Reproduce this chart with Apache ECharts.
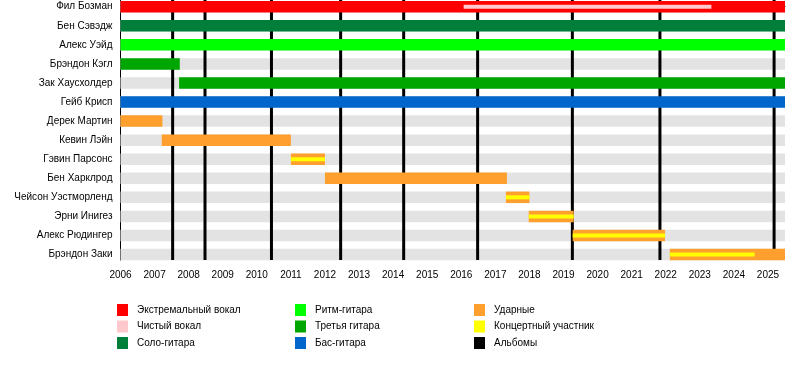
<!DOCTYPE html>
<html>
<head>
<meta charset="utf-8">
<script src="https://cdn.jsdelivr.net/npm/echarts@6/dist/echarts.min.js"></script>
<style>
html,body{margin:0;padding:0;background:#fff;}
#chart{width:800px;height:380px;}
</style>
</head>
<body>
<div id="chart"></div>
<script>
const members = [
  'Фил Бозман', 'Бен Сэвэдж', 'Алекс Уэйд', 'Брэндон Кэгл', 'Зак Хаусхолдер',
  'Гейб Крисп', 'Дерек Мартин', 'Кевин Лэйн', 'Гэвин Парсонс', 'Бен Харклрод',
  'Чейсон Уэстморленд', 'Эрни Инигез', 'Алекс Рюдингер', 'Брэндон Заки'
];
const years = [2006, 2007, 2008, 2009, 2010, 2011, 2012, 2013, 2014, 2015,
  2016, 2017, 2018, 2019, 2020, 2021, 2022, 2023, 2024, 2025];
const startDate = 2006;
const endDate = 2025.5;

const extremeVocals = [['Фил Бозман', 2006, 2025.5]];
const cleanVocals = [['Фил Бозман', 2016.07, 2023.34]];
const leadGuitar = [['Бен Сэвэдж', 2006, 2025.5]];
const rhythmGuitar = [['Алекс Уэйд', 2006, 2025.5]];
const thirdGuitar = [['Брэндон Кэгл', 2006, 2007.74], ['Зак Хаусхолдер', 2007.72, 2025.5]];
const bassGuitar = [['Гейб Крисп', 2006, 2025.5]];
const drums = [
  ['Дерек Мартин', 2006, 2007.23],
  ['Кевин Лэйн', 2007.21, 2011.0],
  ['Гэвин Парсонс', 2011.0, 2012.0],
  ['Бен Харклрод', 2012.0, 2017.34],
  ['Чейсон Уэстморленд', 2017.31, 2018.0],
  ['Эрни Инигез', 2017.98, 2019.3],
  ['Алекс Рюдингер', 2019.27, 2021.98],
  ['Брэндон Заки', 2022.12, 2025.5]
];
const touring = [
  ['Гэвин Парсонс', 2011.0, 2012.0],
  ['Чейсон Уэстморленд', 2017.31, 2018.0],
  ['Эрни Инигез', 2017.98, 2019.3],
  ['Алекс Рюдингер', 2019.27, 2021.98],
  ['Брэндон Заки', 2022.12, 2024.61]
];
const albums = [2007.53, 2008.48, 2010.43, 2012.46, 2014.31, 2016.48, 2019.26, 2021.83, 2025.18];

const BAR_H = 11.5;
const INNER_H = 4;
const FONT = 'Liberation Sans, Arial, sans-serif';

function barRender(h) {
  return function (params, api) {
    const row = api.value(0);
    const p0 = api.coord([api.value(1), row]);
    const p1 = api.coord([api.value(2), row]);
    return {
      type: 'rect',
      shape: { x: p0[0], y: p0[1] - h / 2, width: p1[0] - p0[0], height: h },
      style: { fill: api.visual('color') }
    };
  };
}
function rows(list) {
  return list.map(d => [members.indexOf(d[0]), d[1], d[2]]);
}
function barSeries(name, color, list, h, z) {
  return {
    name: name, type: 'custom', renderItem: barRender(h),
    itemStyle: { color: color }, z: z, silent: true,
    encode: { x: [1, 2], y: 0 },
    data: rows(list)
  };
}

const series = [
  {
    name: 'bg', type: 'custom', z: 1, silent: true,
    renderItem: barRender(BAR_H), itemStyle: { color: '#e3e3e3' },
    encode: { x: [1, 2], y: 0 },
    data: members.map((m, i) => [i, startDate, endDate])
  },
  {
    name: 'Альбомы', type: 'custom', z: 2, silent: true,
    itemStyle: { color: '#000000' },
    renderItem: function (params, api) {
      const x = api.coord([api.value(0), 0])[0];
      const cs = params.coordSys;
      return {
        type: 'line',
        shape: { x1: x, y1: cs.y, x2: x, y2: cs.y + cs.height },
        style: { stroke: api.visual('color'), lineWidth: 3 }
      };
    },
    encode: { x: 0 },
    data: albums.map(a => [a])
  },
  barSeries('Экстремальный вокал', '#ff0000', extremeVocals, BAR_H, 3),
  barSeries('Чистый вокал', '#ffc8cc', cleanVocals, INNER_H, 4),
  barSeries('Соло-гитара', '#007f3a', leadGuitar, BAR_H, 3),
  barSeries('Ритм-гитара', '#00ff00', rhythmGuitar, BAR_H, 3),
  barSeries('Третья гитара', '#00a600', thirdGuitar, BAR_H, 3),
  barSeries('Бас-гитара', '#0066cc', bassGuitar, BAR_H, 3),
  barSeries('Ударные', '#ffa02e', drums, BAR_H, 3),
  barSeries('Концертный участник', '#ffff00', touring, INNER_H, 4)
];

function legend(left, names) {
  return {
    orient: 'vertical', left: left, top: 304, padding: 0,
    itemWidth: 11, itemHeight: 12, itemGap: 4.5,
    icon: 'rect', selectedMode: false,
    textStyle: { fontFamily: FONT, fontSize: 10, color: '#000', padding: [0, 0, 0, 4] },
    data: names.map(n => ({ name: n, icon: 'rect' }))
  };
}

const rowIndices = members.map((m, i) => i);

const chart = echarts.init(document.getElementById('chart'), null, { renderer: 'canvas' });
chart.setOption({
  animation: false,
  backgroundColor: '#ffffff',
  grid: { left: 120.5, right: 15, top: 0, bottom: 120, containLabel: false },
  xAxis: {
    type: 'value', min: startDate, max: endDate, interval: 1,
    axisLine: { show: true, lineStyle: { color: '#000', width: 1 } },
    axisTick: { show: true, length: 5, lineStyle: { color: '#000' }, customValues: years },
    axisLabel: { fontFamily: FONT, fontSize: 10, color: '#000', margin: 10, customValues: years,
      formatter: v => String(v) },
    splitLine: { show: false }
  },
  yAxis: {
    type: 'value', inverse: true, min: -0.3515, max: 13.2886,
    axisLine: { show: true, lineStyle: { color: '#000', width: 1 } },
    axisTick: { show: false },
    axisLabel: { fontFamily: FONT, fontSize: 10, color: '#000', margin: 8,
      customValues: rowIndices, formatter: v => members[Math.round(v)] || '' },
    splitLine: { show: false }
  },
  legend: [
    legend(117, ['Экстремальный вокал', 'Чистый вокал', 'Соло-гитара']),
    legend(295, ['Ритм-гитара', 'Третья гитара', 'Бас-гитара']),
    legend(474, ['Ударные', 'Концертный участник', 'Альбомы'])
  ],
  series: series
});
</script>
</body>
</html>
